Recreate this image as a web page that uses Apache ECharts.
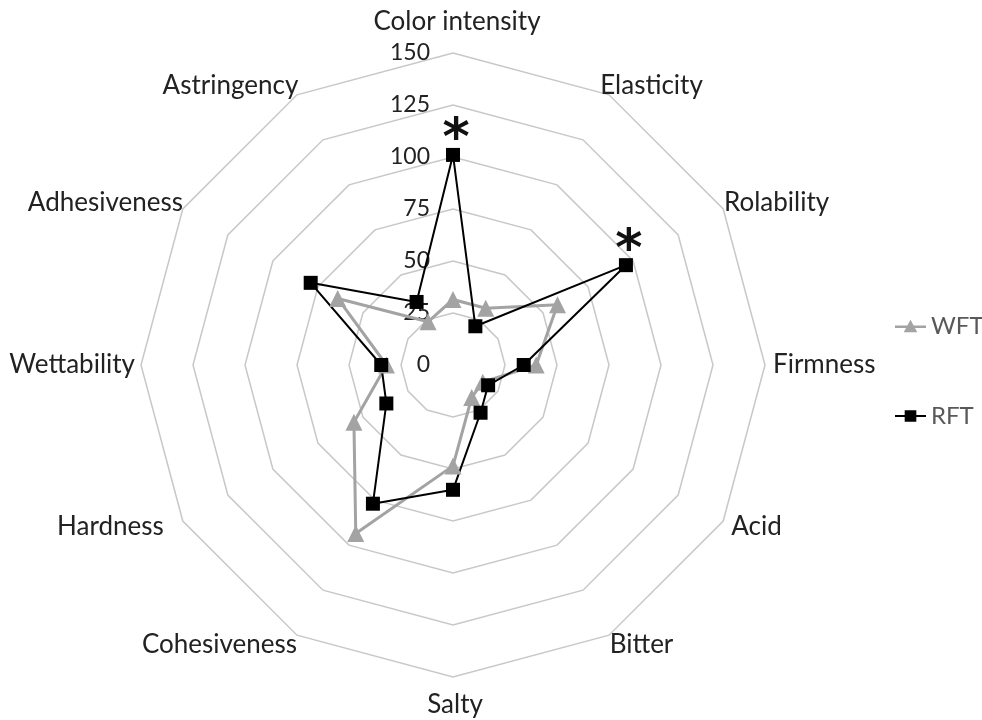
<!DOCTYPE html>
<html><head><meta charset="utf-8">
<script src="https://cdn.jsdelivr.net/npm/echarts@6/dist/echarts.min.js"></script>
<style>html,body{margin:0;padding:0;background:#fff}#main{width:982px;height:720px}</style>
</head><body><div id="main"></div>
<script>
// ---- data (clockwise from top) ----
const categories = ['Color intensity','Elasticity','Rolability','Firmness','Acid','Bitter','Salty','Cohesiveness','Hardness','Wettability','Adhesiveness','Astringency'];
const wftValues = [31.5, 31.5, 58, 40, 16.5, 18, 48.5, 93.5, 55, 32, 64, 24];
const rftValues = [101, 21.5, 96, 34, 19.5, 26.5, 60, 77, 37, 34.5, 79, 35];
const rftMarks  = ['*', '', '*', '', '', '', '', '', '', '', '', ''];
const tickLabels = ['0', '25', '50', '75', '100', '125', '150'];
const axisMax = 150;
const tickStep = 25;

// ---- layout of category names (clockwise order): distance beyond ring, horizontal shift ----
const nameLayout = [
  {gap: 31, shift: 4,   align: 'center'},
  {gap: 11, shift: 37,  align: 'center'},
  {gap: 12, shift: 43,  align: 'center'},
  {gap: 8,  shift: 0,   align: 'left'},
  {gap: 12, shift: 23,  align: 'center'},
  {gap: 11, shift: 27,  align: 'center'},
  {gap: 28, shift: 2,   align: 'center'},
  {gap: 11, shift: -72, align: 'center'},
  {gap: 12, shift: -62, align: 'center'},
  {gap: 6,  shift: 0,   align: 'right'},
  {gap: 12, shift: -67, align: 'center'},
  {gap: 11, shift: -61, align: 'center'}
];

const FONT = 'Lato';
// ECharts radar runs counter-clockwise; reorder so the picture runs clockwise
const order = categories.map((c, k) => k === 0 ? 0 : categories.length - k);

const indicator = order.map((i, k) => {
  const L = nameLayout[i];
  const pad = L.shift >= 0 ? [0, 0, 0, 2 * L.shift] : [0, -2 * L.shift, 0, 0];
  const ind = {
    name: categories[i],
    min: 0,
    max: axisMax,
    nameGap: L.gap,
    nameTextStyle: {align: L.align, verticalAlign: 'middle', padding: pad}
  };
  if (k === 0) {
    ind.axisLabel = {
      show: true,
      margin: 23,
      color: '#222',
      fontSize: 23,
      fontFamily: FONT,
      formatter: v => tickLabels[Math.round(v / tickStep)]
    };
  }
  return ind;
});

const chart = echarts.init(document.getElementById('main'), null, {renderer: 'canvas'});
chart.setOption({
  animation: false,
  backgroundColor: '#fff',
  legend: {
    orient: 'vertical',
    left: 895,
    top: 311,
    padding: 0,
    itemWidth: 31,
    itemHeight: 16,
    itemGap: 60,
    textStyle: {fontSize: 24, color: '#595959', fontFamily: FONT, lineHeight: 30},
    data: [
      {name: 'WFT', icon: 'path://M0,7h32v2.6h-32z M16,1L23,14H9z'},
      {name: 'RFT', icon: 'path://M0,7h32v2h-32z M10,2h12v12h-12z'}
    ]
  },
  radar: {
    center: [453, 365],
    radius: 312,
    startAngle: 90,
    splitNumber: axisMax / tickStep,
    shape: 'polygon',
    indicator: indicator,
    axisName: {color: '#222', fontSize: 26, fontFamily: FONT},
    axisLine: {show: false},
    axisTick: {show: false},
    axisLabel: {show: false},
    splitLine: {lineStyle: {color: '#c8c8c8', width: 1.5}},
    splitArea: {show: false}
  },
  series: [{
    type: 'radar',
    data: [
      {
        name: 'WFT',
        value: order.map(i => wftValues[i]),
        symbol: 'triangle',
        symbolSize: 17,
        lineStyle: {color: '#a3a3a3', width: 3},
        itemStyle: {color: '#a3a3a3'}
      },
      {
        name: 'RFT',
        value: order.map(i => rftValues[i]),
        symbol: 'rect',
        symbolSize: 14,
        lineStyle: {color: '#000', width: 2},
        itemStyle: {color: '#000'},
        label: {
          show: true,
          position: 'top',
          distance: 0,
          offset: [3, 19],
          fontSize: 52,
          fontWeight: 'bold',
          fontFamily: 'DejaVu Sans',
          color: '#111',
          formatter: p => rftMarks[order[p.dimensionIndex]]
        }
      }
    ]
  }]
});
</script></body></html>
